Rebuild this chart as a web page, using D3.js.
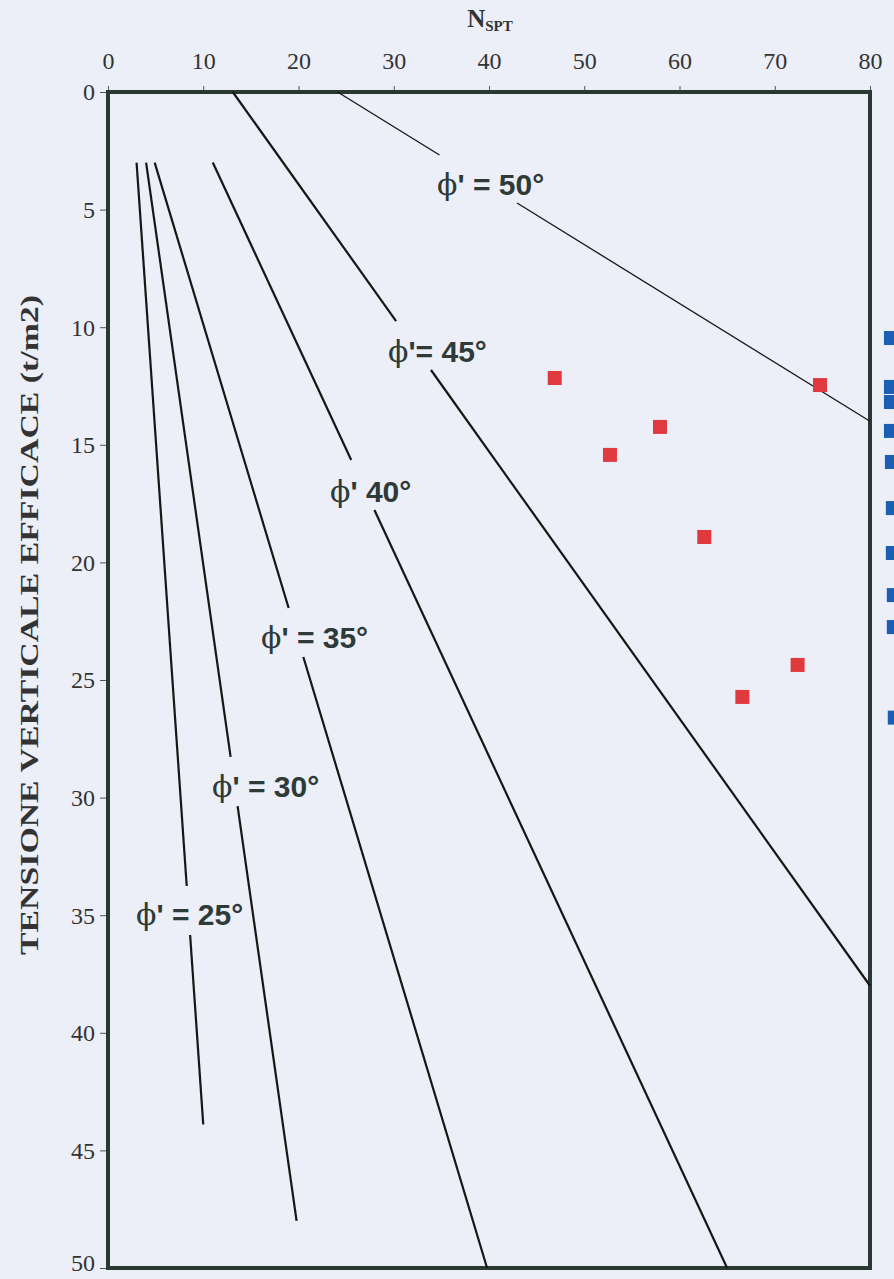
<!DOCTYPE html>
<html><head><meta charset="utf-8">
<script src="https://cdn.jsdelivr.net/npm/d3@7"></script>
<style>html,body{margin:0;padding:0;background:#eceef8;} svg{display:block}</style>
</head><body><svg id="c" width="894" height="1279"></svg>
<script>
// ---- data ----
const xTicks = [0,10,20,30,40,50,60,70,80];
const yTicks = [0,5,10,15,20,25,30,35,40,45,50];
const phiAngles = [25,30,35,40,45,50];
const phiText = ["' = 25°","' = 30°","' = 35°","' 40°","'= 45°","' = 50°"];
const lineStartN = [3.0, 4.0, 4.9, 11.0, 13.1, 24.1];
const lineStartS = [3.0, 3.0, 3.0, 3.0, 0.0, 0.0];
const lineEndN   = [10.0, 19.8, 39.8, 65.0, 80.0, 80.0];
const lineEndS   = [43.9, 48.0, 50.0, 50.0, 38.0, 14.0];
const gapTopS    = [33.76, 28.27, 21.94, 15.65, 9.74, 2.68];
const gapBotS    = [35.84, 30.36, 24.02, 17.77, 11.82, 4.72];
const labelN     = [2.94, 10.92, 16.06, 23.31, 29.40, 34.54];
const labelS     = [35.42, 29.97, 23.64, 17.43, 11.48, 4.38];
const redN = [46.9, 52.7, 57.95, 62.6, 66.6, 72.4, 74.75];
const redS = [12.16, 15.43, 14.24, 18.92, 25.72, 24.36, 12.46];
const blueN = [82.2, 82.2, 82.2, 82.2, 82.3, 82.4, 82.4, 82.5, 82.5, 82.6];
const blueS = [10.46, 12.54, 13.18, 14.41, 15.73, 17.69, 19.6, 21.39, 22.75, 26.6];

// ---- chart ----
const svg = d3.select("#c");
const x = d3.scaleLinear().domain([0,80]).range([108,870]);
const y = d3.scaleLinear().domain([0,50]).range([92,1268]);
const frameCol = "#2a3833";
const txtCol = "#2d3a37";
const serif = "'Liberation Serif','Times New Roman',serif";

// axes
const xAxis = d3.axisTop(x).tickValues(xTicks).tickSize(6).tickPadding(17);
const gx = svg.append("g").attr("transform","translate(0,92)").call(xAxis);
const yAxis = d3.axisLeft(y).tickValues(yTicks).tickSize(8).tickPadding(5);
const gy = svg.append("g").attr("transform","translate(108,0)").call(yAxis);
[gx,gy].forEach(g=>{
  g.select(".domain").remove();
  g.selectAll(".tick line").attr("stroke","#555").attr("stroke-width",1);
  g.selectAll(".tick text").attr("font-family",serif)
   .attr("font-size",24).attr("fill","#333");
});
gx.selectAll(".tick text").attr("dy","0");
gy.selectAll(".tick text").attr("dy",d => d===50 ? "0.1em" : "0.33em");

// frame
svg.append("rect").attr("x",x(0)).attr("y",y(0))
  .attr("width",x(80)-x(0)).attr("height",y(50)-y(0))
  .attr("fill","none").attr("stroke",frameCol).attr("stroke-width",4);

// phi lines (two segments each, gap for label)
const line = d3.line().x(d=>x(d[0])).y(d=>y(d[1]));
phiAngles.forEach((a,i)=>{
  const x0=lineStartN[i], s0=lineStartS[i], x1=lineEndN[i], s1=lineEndS[i];
  const nAt = s => x0 + (x1-x0)*(s-s0)/(s1-s0);
  const segs = [[[x0,s0],[nAt(gapTopS[i]),gapTopS[i]]],[[nAt(gapBotS[i]),gapBotS[i]],[x1,s1]]];
  segs.forEach(seg=>{
    svg.append("path").attr("d",line(seg)).attr("fill","none")
      .attr("stroke","#161616").attr("stroke-width", a===50?1.3:2.2);
  });
  const t = svg.append("text").attr("x",x(labelN[i])).attr("y",y(labelS[i]))
    .attr("fill",txtCol).attr("font-size",30);
  t.append("tspan").attr("font-family","'DejaVu Serif',serif").attr("font-weight","normal").text("ϕ");
  t.append("tspan").attr("font-family","'Liberation Sans',Arial,sans-serif").attr("font-weight","bold").text(phiText[i]);
});

// points
const sz = 14;
svg.selectAll("rect.red").data(redN.map((n,i)=>[n,redS[i]])).enter().append("rect")
  .attr("class","red").attr("x",d=>x(d[0])-sz/2).attr("y",d=>y(d[1])-sz/2)
  .attr("width",sz).attr("height",sz).attr("fill","#e03a3f");
svg.selectAll("rect.blue").data(blueN.map((n,i)=>[n,blueS[i]])).enter().append("rect")
  .attr("class","blue").attr("x",d=>x(d[0])-sz/2).attr("y",d=>y(d[1])-sz/2)
  .attr("width",sz).attr("height",sz).attr("fill","#1b5fb5");

// titles
const tt = svg.append("text").attr("x",490).attr("y",27).attr("text-anchor","middle")
  .attr("font-family",serif).attr("font-weight","bold").attr("fill","#333");
tt.append("tspan").attr("font-size",25).text("N");
tt.append("tspan").attr("font-size",15).attr("dy",4).text("SPT");

svg.append("text").attr("transform","translate(38,625) rotate(-90)")
  .attr("text-anchor","middle").attr("font-family",serif)
  .attr("font-weight","bold").attr("font-size",26).attr("fill","#333")
  .attr("textLength",660).attr("lengthAdjust","spacingAndGlyphs")
  .text("TENSIONE VERTICALE EFFICACE (t/m2)");
</script></body></html>
